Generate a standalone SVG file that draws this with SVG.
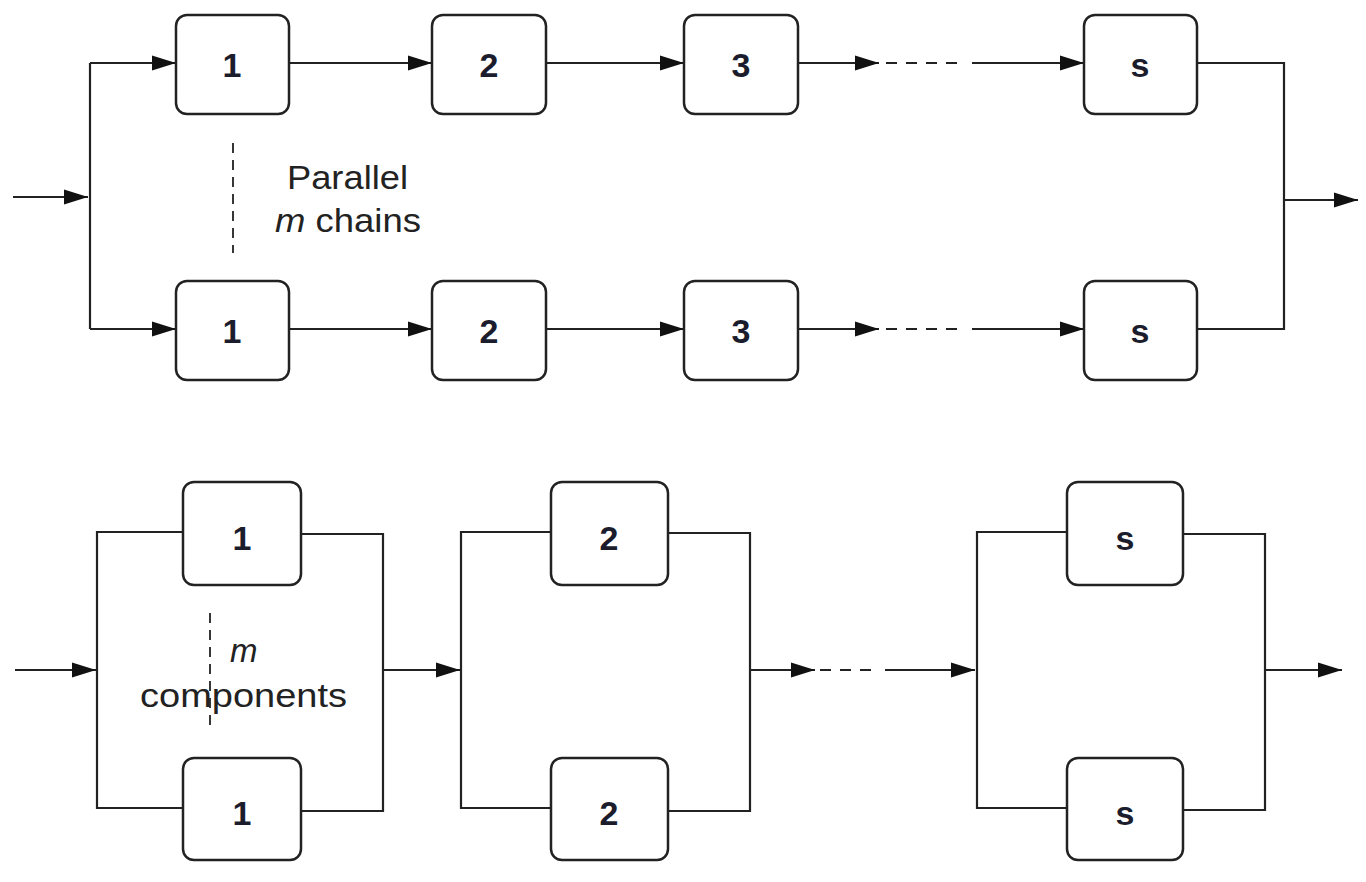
<svg xmlns="http://www.w3.org/2000/svg" width="1366" height="882" viewBox="0 0 1366 882">
  <defs>
    <marker id="arrow" markerUnits="userSpaceOnUse" markerWidth="26" markerHeight="18" refX="24" refY="8" orient="auto">
      <path d="M0,0.5 L24,8 L0,15.5 Z" fill="#111"/>
    </marker>
    <style>
      .box { fill: #fff; stroke: #222; stroke-width: 2.5; }
      .lbl { font-family: "Liberation Sans", Arial, sans-serif; font-weight: bold; font-size: 34px; fill: #1b1c2c; text-anchor: middle; }
      .wire { fill: none; stroke: #222; stroke-width: 2.2; }
      .arr { fill: none; stroke: #222; stroke-width: 2.2; marker-end: url(#arrow); }
      .dash { fill: none; stroke: #222; stroke-width: 2.2; stroke-dasharray: 11 9; }
      .vdash { fill: none; stroke: #222; stroke-width: 1.8; stroke-dasharray: 10 7; }
      .note { font-family: "Liberation Sans", Arial, sans-serif; font-size: 33px; fill: #222; }
    </style>
  </defs>
  <rect width="1366" height="882" fill="#fff"/>

  <!-- Series-parallel: m chains of s components -->
  <g id="connectors-top">
    <path class="arr" d="M13,197 H88"/>
    <path class="wire" d="M90,63 V329"/>
    <path class="arr" d="M90,63 H176"/>
    <path class="arr" d="M90,329 H176"/>
    <path class="arr" d="M289,63 H432"/>
    <path class="arr" d="M546,63 H684"/>
    <path class="arr" d="M798,63 H879"/>
    <path class="dash" d="M886,63 H966"/>
    <path class="arr" d="M972,63 H1084"/>
    <path class="arr" d="M289,329 H432"/>
    <path class="arr" d="M546,329 H684"/>
    <path class="arr" d="M798,329 H879"/>
    <path class="dash" d="M886,329 H966"/>
    <path class="arr" d="M972,329 H1084"/>
    <path class="wire" d="M1197,63 H1284 V329 H1197"/>
    <path class="arr" d="M1284,200 H1358"/>
    <path class="vdash" d="M233,143 V253"/>
  </g>

  <g id="top-a1"><rect class="box" x="176" y="15" width="113" height="99" rx="11"/><text class="lbl" x="232" y="77">1</text></g>
  <g id="top-a2"><rect class="box" x="432" y="15" width="114" height="99" rx="11"/><text class="lbl" x="489" y="77">2</text></g>
  <g id="top-a3"><rect class="box" x="684" y="15" width="114" height="99" rx="11"/><text class="lbl" x="741" y="77">3</text></g>
  <g id="top-as"><rect class="box" x="1084" y="15" width="113" height="99" rx="11"/><text class="lbl" x="1140" y="77">s</text></g>
  <g id="top-b1"><rect class="box" x="176" y="281" width="113" height="99" rx="11"/><text class="lbl" x="232" y="343">1</text></g>
  <g id="top-b2"><rect class="box" x="432" y="281" width="114" height="99" rx="11"/><text class="lbl" x="489" y="343">2</text></g>
  <g id="top-b3"><rect class="box" x="684" y="281" width="114" height="99" rx="11"/><text class="lbl" x="741" y="343">3</text></g>
  <g id="top-bs"><rect class="box" x="1084" y="281" width="113" height="99" rx="11"/><text class="lbl" x="1140" y="343">s</text></g>

  <g id="label-chains">
    <text class="note" x="287" y="189" textLength="121" lengthAdjust="spacingAndGlyphs">Parallel</text>
    <text class="note" x="275" y="232" textLength="146" lengthAdjust="spacingAndGlyphs"><tspan font-style="italic">m</tspan> chains</text>
  </g>

  <!-- Parallel-series: s stages of m components -->
  <g id="connectors-bottom">
    <path class="arr" d="M15,670 H96"/>
    <path class="wire" d="M183,532 H97 V808 H183"/>
    <path class="wire" d="M302,534 H383 V811 H302"/>
    <path class="arr" d="M383,670 H460"/>
    <path class="wire" d="M551,532 H461 V808 H551"/>
    <path class="wire" d="M668,533 H750 V811 H668"/>
    <path class="arr" d="M750,670 H815"/>
    <path class="dash" d="M820,670 H880"/>
    <path class="arr" d="M885,670 H975"/>
    <path class="wire" d="M1067,532 H977 V808 H1067"/>
    <path class="wire" d="M1183,534 H1265 V810 H1183"/>
    <path class="arr" d="M1265,670 H1342"/>
    <path class="vdash" d="M210,613 V728"/>
  </g>

  <g id="bot-11"><rect class="box" x="183" y="482" width="118" height="103" rx="11"/><text class="lbl" x="242" y="550">1</text></g>
  <g id="bot-12"><rect class="box" x="183" y="758" width="118" height="102" rx="11"/><text class="lbl" x="242" y="825">1</text></g>
  <g id="bot-21"><rect class="box" x="551" y="482" width="117" height="103" rx="11"/><text class="lbl" x="609" y="550">2</text></g>
  <g id="bot-22"><rect class="box" x="551" y="758" width="117" height="102" rx="11"/><text class="lbl" x="609" y="825">2</text></g>
  <g id="bot-s1"><rect class="box" x="1067" y="482" width="116" height="103" rx="11"/><text class="lbl" x="1125" y="550">s</text></g>
  <g id="bot-s2"><rect class="box" x="1067" y="758" width="116" height="102" rx="11"/><text class="lbl" x="1125" y="825">s</text></g>

  <g id="label-components">
    <text class="note" x="230" y="662" font-style="italic">m</text>
    <text class="note" x="140" y="707" textLength="207" lengthAdjust="spacingAndGlyphs">components</text>
  </g>
</svg>
